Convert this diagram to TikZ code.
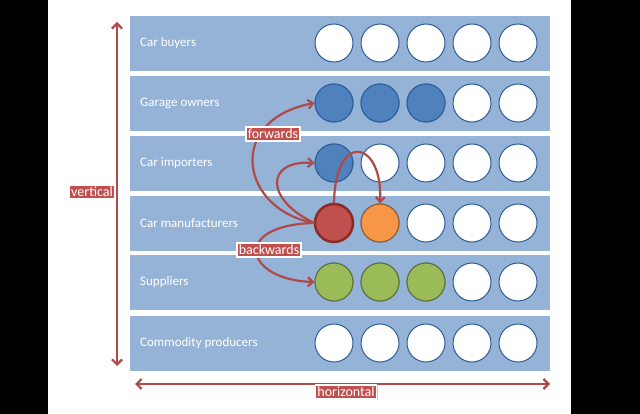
\documentclass[tikz,border=0pt]{standalone}
\usepackage{fontspec}
\setmainfont{Carlito}
\usetikzlibrary{arrows.meta,shadows}
\definecolor{band}{HTML}{95B3D7}
\definecolor{cbord}{HTML}{2E5C9A}
\definecolor{cblue}{HTML}{4F81BD}
\definecolor{cgreen}{HTML}{9BBB59}
\definecolor{corange}{HTML}{F79646}
\definecolor{cred}{HTML}{C0504D}
\definecolor{cdred}{HTML}{8C2A28}
\definecolor{arr}{HTML}{B04A48}
\tikzset{
  bandbox/.style={fill=band,draw=none,minimum width=420pt,minimum height=55pt,anchor=north west,inner sep=0},
  bandtxt/.style={text=white,font=\fontsize{13}{15}\selectfont,anchor=west,inner sep=0},
  circ/.style={circle,draw=cbord,line width=1pt,fill=white,minimum size=38pt,inner sep=0},
  lbl/.style={fill=cred,draw=white,line width=1.5pt,text=white,font=\fontsize{14}{16}\selectfont,inner sep=2pt,drop shadow={shadow xshift=1pt,shadow yshift=-1pt,opacity=0.4}},
  flow/.style={arr,line width=2.2pt,-{Straight Barb[length=5pt,width=9pt]}},
  axis/.style={arr,line width=2.2pt,{Straight Barb[length=5pt,width=10pt]}-{Straight Barb[length=5pt,width=10pt]}}
}
\begin{document}
\begin{tikzpicture}[x=1pt,y=-1pt]
\useasboundingbox (0,0) rectangle (640,414);
\fill[black] (0,0) rectangle (48,414);
\fill[black] (571,0) rectangle (640,414);
\fill[white] (48,0) rectangle (571,414);
\foreach \y/\t/\n in {16/Car buyers/1,76/Garage owners/2,136/Car importers/3,196/Car manufacturers/4,255/Suppliers/5,316/Commodity producers/6}{
  \node[bandbox] (b\n) at (130,\y) {};
  \node[bandtxt] (t\n) at (140,\y+27) {\t};
  \foreach \i in {1,...,5}{
    \node[circ] (c\n\i) at ({334+46*(\i-1)},\y+27) {};
  }
}
\foreach \i in {1,2,3}{\node[circ,fill=cblue] at (c2\i) {};}
\node[circ,fill=cblue] at (c31) {};
\foreach \i in {1,2,3}{\node[circ,fill=cgreen,draw=cgreen!60!black] at (c5\i) {};}
\node[circ,fill=corange,draw=corange!60!black] at (c42) {};
\node[circ,fill=cred,draw=cdred,line width=2.5pt] at (c41) {};
% arrows
\draw[flow] (c41.west) .. controls (240,210) and (225,120) .. (c21.west);
\draw[flow] (c41.west) .. controls (265,200) and (265,160) .. (c31.west);
\draw[flow] (c41.north) .. controls (335,130) and (383,140) .. (c42.north);
\draw[flow] (c41.west) .. controls (230,225) and (245,280) .. (c51.west);
\node[lbl] (fw) at (273,134) {forwards};
\node[lbl] (bw) at (269,250) {backwards};
% axes
\coordinate (vt) at (117,22);
\coordinate (vb) at (117,366);
\draw[axis] (vt) -- (vb);
\node[lbl] (vl) at (92,192) {vertical};
\coordinate (hl) at (135,384);
\coordinate (hr) at (550,384);
\draw[axis] (hl) -- (hr);
\node[lbl] (hz) at (346,392) {horizontal};
\end{tikzpicture}
\end{document}
